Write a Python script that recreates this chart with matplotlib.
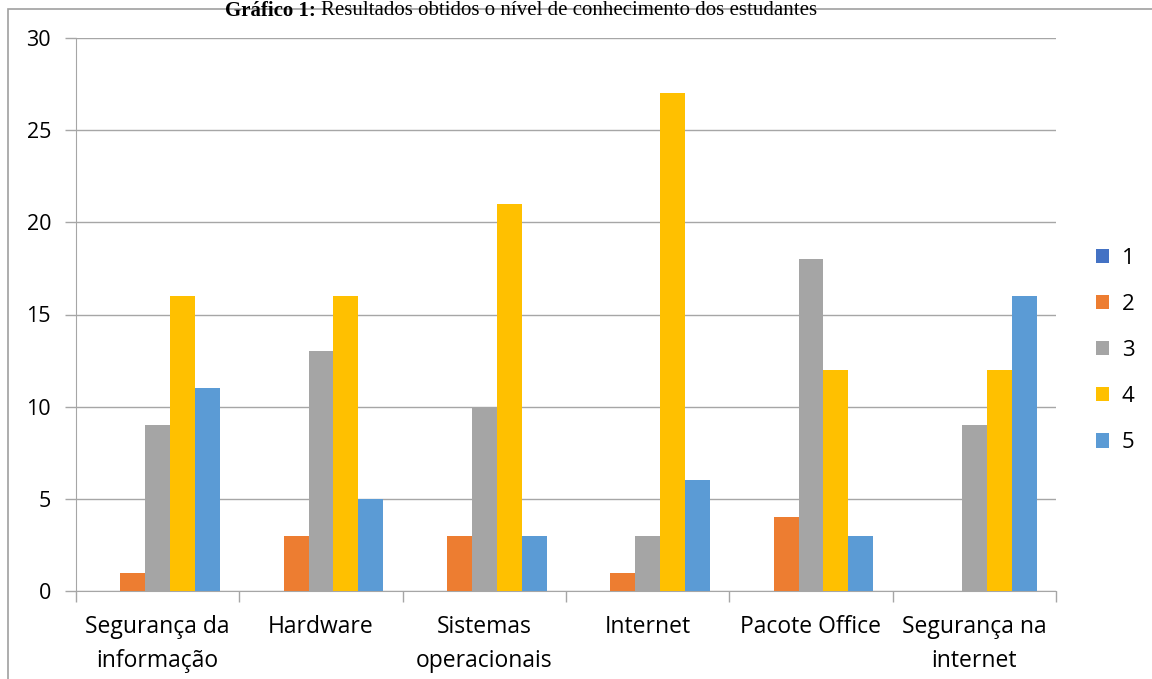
import matplotlib.pyplot as plt
import numpy as np

categories = ["Segurança da\ninformação", "Hardware", "Sistemas\noperacionais",
              "Internet", "Pacote Office", "Segurança na\ninternet"]
series_names = ["1", "2", "3", "4", "5"]
s1 = [0, 0, 0, 0, 0, 0]
s2 = [1, 3, 3, 1, 4, 0]
s3 = [9, 13, 10, 3, 18, 9]
s4 = [16, 16, 21, 27, 12, 12]
s5 = [11, 5, 3, 6, 3, 16]
colors = ["#4472C4", "#ED7D31", "#A5A5A5", "#FFC000", "#5B9BD5"]

fig = plt.figure(figsize=(11.52, 6.79), dpi=100)
ax = fig.add_axes([76 / 1152, 88 / 679, 980 / 1152, 553 / 679])

x = np.arange(len(categories))
w = 25 / 163.4
for i, vals in enumerate([s1, s2, s3, s4, s5]):
    ax.bar(x + (i - 2) * w, vals, w, color=colors[i], label=series_names[i], zorder=3)

ax.set_xlim(-0.5, len(categories) - 0.5)
ax.set_ylim(0, 30)
ax.set_yticks(range(0, 31, 5))
ax.yaxis.grid(True, color="#A6A6A6", linewidth=1, zorder=0)
ax.set_xticks(x)
ax.set_xticklabels(categories, fontsize=16.5, family="Open Sans", linespacing=1.55)
ax.set_xticks(np.arange(-0.5, len(categories)), minor=True)
ax.tick_params(axis="x", which="major", length=0, pad=17)
ax.tick_params(axis="x", which="minor", length=8, color="#A6A6A6", width=1)
ax.tick_params(axis="y", length=8, color="#A6A6A6", width=1, pad=10)
for t in ax.get_yticklabels():
    t.set_fontsize(15.5)
    t.set_family("Open Sans")
for side in ["top", "right"]:
    ax.spines[side].set_visible(False)
for side in ["left", "bottom"]:
    ax.spines[side].set_color("#A6A6A6")

leg = ax.legend(loc="center left", bbox_to_anchor=(1.02, 0.435), frameon=False,
                prop={"family": "Open Sans", "size": 16}, handlelength=0.62,
                handleheight=0.62, labelspacing=1.13, handletextpad=0.55)

# outer frame of the chart box
fig.patches.append(plt.Rectangle((8 / 1152, -0.05), 1.2, (679 - 9) / 679 + 0.05,
                                 transform=fig.transFigure, fill=False,
                                 edgecolor="#A0A0A0", linewidth=1.2))

fig.text(0.274, 0.999, "Gráfico 1:", ha="right", va="top", fontsize=15,
         family="Liberation Serif", weight="bold")
fig.text(0.279, 0.999, "Resultados obtidos o nível de conhecimento dos estudantes",
         ha="left", va="top", fontsize=15, family="Liberation Serif")

fig.savefig("out.png", dpi=100)
